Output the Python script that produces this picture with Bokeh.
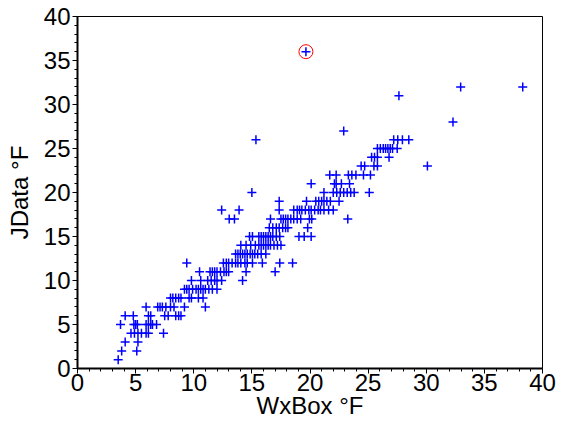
from bokeh.plotting import figure
from bokeh.models import Range1d, FixedTicker
from bokeh.embed import file_html
from bokeh.resources import INLINE

# JData (y, integer °F) -> list of WxBox readings (x, °F)
rows = {
    1: [3.5],
    2: [3.8, 5.1],
    3: [4.1, 5.2],
    4: [4.6, 4.9, 5.2, 5.5, 5.9, 6.1, 7.4],
    5: [3.7, 4.85, 5.0, 5.15, 5.9, 6.1, 6.3, 6.45, 6.8],
    6: [4.1, 4.8, 6.1, 6.3, 7.5, 7.8, 8.45, 8.7, 8.9],
    7: [5.9, 6.9, 7.1, 7.3, 7.6, 8.0, 8.3, 9.2, 11.0],
    8: [8.0, 8.2, 8.45, 8.7, 8.9, 9.6, 9.8, 10.4, 10.8],
    9: [9.2, 9.4, 9.6, 9.9, 10.2, 10.4, 10.6, 10.8, 11.0, 11.3, 11.6, 12.0],
    10: [9.8, 10.6, 11.2, 11.5, 11.8, 12.0, 12.4, 14.2],
    11: [10.5, 11.4, 11.6, 11.8, 12.0, 12.3, 12.6, 12.8, 13.0, 14.5, 17.0],
    12: [9.4, 12.55, 12.8, 13.0, 13.3, 13.6, 13.8, 14.05, 14.4, 14.6, 15.05, 15.9, 17.4, 18.5],
    13: [13.6, 13.8, 14.0, 14.2, 14.4, 14.6, 14.85, 15.05, 15.25, 15.5, 15.8, 16.2],
    14: [14.05, 14.5, 14.9, 15.3, 15.6, 15.8, 16.0, 16.2, 16.4, 16.6, 16.9, 17.2, 17.5],
    15: [14.8, 15.05, 15.6, 15.8, 16.0, 16.2, 16.4, 16.6, 16.8, 17.1, 17.4, 19.05, 19.5, 20.1],
    16: [16.5, 16.8, 17.1, 17.35, 17.65, 17.9, 18.1, 19.8],
    17: [13.05, 13.5, 16.6, 17.5, 17.7, 17.9, 18.1, 18.35, 18.6, 18.9, 19.2, 19.95, 20.15, 23.25],
    18: [12.4, 13.9, 17.35, 18.6, 18.9, 19.1, 19.3, 19.6, 19.9, 20.1, 20.4, 20.7, 20.9, 21.2, 21.6, 22.0],
    19: [17.35, 19.7, 20.5, 20.75, 21.0, 21.2, 21.45, 21.75, 22.5],
    20: [15.0, 21.2, 22.0, 22.3, 22.6, 22.9, 23.2, 23.5, 23.8, 25.1],
    21: [20.1, 22.1, 22.25, 22.7, 23.4],
    22: [21.7, 22.25, 23.3, 23.6, 23.95, 24.6, 25.2],
    23: [24.4, 24.7, 25.5, 25.8, 30.1],
    24: [25.3, 25.55, 25.8, 26.8],
    25: [25.8, 26.05, 26.3, 26.5, 26.7, 26.9, 27.1, 27.5],
    26: [15.35, 27.2, 27.55, 27.95, 28.5],
    27: [22.9],
    28: [32.3],
    31: [27.65],
    32: [32.96, 38.3],
    36: [19.65],
}
outlier_x = [19.65]
outlier_y = [36]
x_ticks = [0, 5, 10, 15, 20, 25, 30, 35, 40]
y_ticks = [0, 5, 10, 15, 20, 25, 30, 35, 40]
x_title = "WxBox \u00b0F"
y_title = "JData \u00b0F"

xs, ys = [], []
for yv, xl in rows.items():
    for xv in xl:
        xs.append(xv)
        ys.append(yv)

p = figure(width=562, height=427, output_backend="svg", toolbar_location=None,
           x_range=Range1d(0, 40), y_range=Range1d(0, 40),
           min_border_left=77, min_border_right=20, min_border_top=16, min_border_bottom=59)
p.xgrid.visible = False
p.ygrid.visible = False
p.outline_line_color = "black"
p.outline_line_width = 1
p.outline_line_alpha = 1

p.scatter(xs, ys, marker="cross", size=9, line_color="#0000FF", line_width=1.5)
p.scatter(outlier_x, outlier_y, marker="circle", size=14, fill_color=None,
          line_color="red", line_width=1)

FONT = "Liberation Sans"
for ax, ticks in ((p.xaxis[0], x_ticks), (p.yaxis[0], y_ticks)):
    ax.ticker = FixedTicker(ticks=ticks, minor_ticks=list(range(0, 41)))
    ax.major_label_text_font = FONT
    ax.major_label_text_font_size = "24px"
    ax.major_label_text_color = "black"
    ax.axis_line_width = 2
    ax.axis_line_color = "black"
    ax.major_tick_out = 5
    ax.major_tick_in = 0
    ax.minor_tick_out = 3
    ax.minor_tick_in = 0
    ax.major_tick_line_width = 1
    ax.minor_tick_line_width = 1
    ax.major_tick_line_color = "black"
    ax.minor_tick_line_color = "black"
    ax.axis_label_text_font = FONT
    ax.axis_label_text_font_size = "24px"
    ax.axis_label_text_font_style = "normal"
    ax.axis_label_text_color = "black"

p.xaxis[0].axis_label = x_title
p.xaxis[0].major_label_standoff = 0
p.xaxis[0].axis_label_standoff = -2
p.yaxis[0].axis_label = y_title
p.yaxis[0].major_label_standoff = 2
p.yaxis[0].axis_label_standoff = 8

open("out.html", "w").write(file_html(p, INLINE))
